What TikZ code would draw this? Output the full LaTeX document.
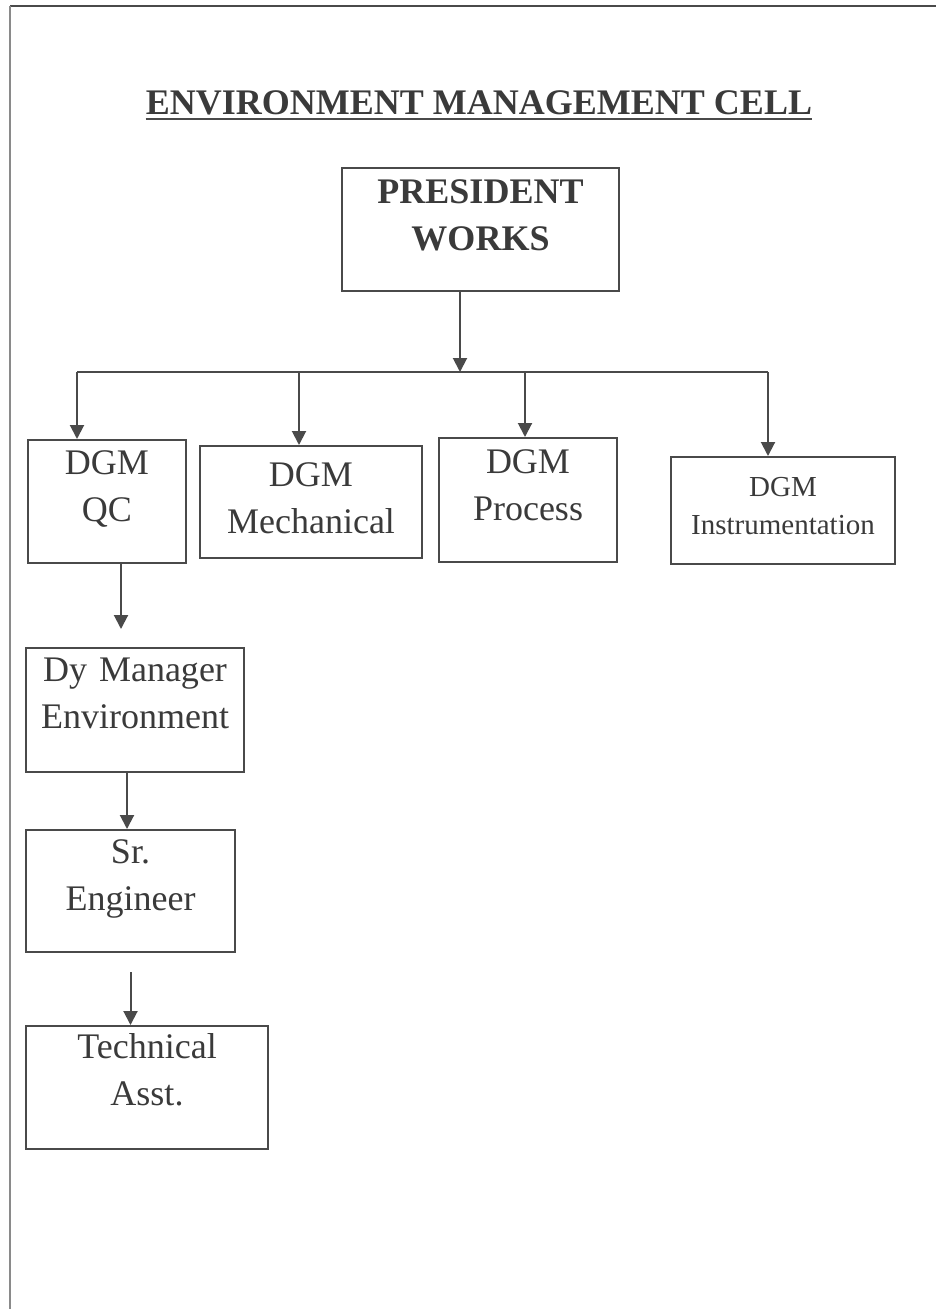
\documentclass[tikz,border=0pt]{standalone}
\usepackage{fontspec}
\setmainfont{Liberation Serif}
\usepackage{tikz}
\usepackage{xcolor}
\usetikzlibrary{
    arrows.meta,
    calc
}
\definecolor{inkgray}{HTML}{3A3A3A}
\definecolor{linegray}{HTML}{4A4A4A}
\definecolor{edgegray}{HTML}{8A8A8A}
\newcommand{\boxfont}{\fontsize{18.07}{23.6}\selectfont}
\newcommand{\smallboxfont}{\fontsize{14.55}{19.07}\selectfont}
\newcommand{\titlefont}{\fontsize{18.07}{22}\selectfont\bfseries}
\tikzset{post/.style={draw=linegray, line width=1bp, inner sep=0pt, anchor=north west, align=center, text=inkgray, font=\boxfont}}
\tikzset{arr/.style={draw=linegray, line width=1bp, -{Triangle[length=7bp, width=7bp]}}}

\begin{document}
\begin{tikzpicture}[x=0.5bp, y=-0.5bp]
                        \useasboundingbox (0,0) rectangle (936,1309);
                        % page frame
                        \draw[linegray, line width=0.8bp] (10,6) -- (936,6);
                        \draw[edgegray, line width=1.1bp] (10,6) -- (10,1309);
                        % title
                        \node[inner sep=0pt, anchor=base, text=inkgray, font=\titlefont] (title) at (479,115) {ENVIRONMENT MANAGEMENT CELL};
                        \draw[linegray, line width=1.25bp] ([yshift=-2bp]title.base west) -- ([yshift=-2bp]title.base east);
                        % boxes
                        \node[post, font=\boxfont\bfseries, text width=138.5bp, text height=17.5bp, text depth=44bp] (pres) at (341,167) {PRESIDENT\\WORKS};
                        \node[post, text width=79bp, text height=17bp, text depth=44.5bp] (qc) at (27,439) {DGM\\QC};
                        \node[post, text width=111bp, text height=20bp, text depth=36bp] (mech) at (199,445) {DGM\\Mechanical};
                        \node[post, text width=89bp, text height=17.5bp, text depth=44.5bp] (proc) at (438,437) {DGM\\Process};
                        \node[post, font=\smallboxfont, text width=112bp, text height=19.5bp, text depth=34bp] (inst) at (670,456) {DGM\\Instrumentation};
                        \node[post, text width=109bp, text height=16.5bp, text depth=45.5bp] (dym) at (25,647) {Dy Manager\\Environment};
                        \node[post, text width=104.5bp, text height=16.5bp, text depth=44.5bp] (sre) at (25,829) {Sr.\\Engineer};
                        \node[post, text width=121bp, text height=16bp, text depth=45.5bp] (tas) at (25,1025) {Technical\\Asst.};
                        % bus
                        \coordinate (bus) at (460,372);
                        \coordinate (b1) at (77,372);
                        \coordinate (b2) at (299,372);
                        \coordinate (b3) at (525,372);
                        \coordinate (b4) at (768,372);
                        \draw[linegray, line width=1bp] (b1) -- (b4);
                        \draw[arr] (pres.south -| bus) -- (bus);
                        \foreach \b/\n in {b1/qc, b2/mech, b3/proc, b4/inst}
                            \draw[arr] (\b) -- (\b |- \n.north);
                        % chain under QC
                        \draw[arr] ([xshift=7bp]qc.south) -- ++(0,65);
                        \draw[arr] ([xshift=-4bp]dym.south) -- ([xshift=-4bp]dym.south |- sre.north);
                        \draw[arr] ([yshift=-9.5bp]sre.south) -- (sre.south |- tas.north);
                    \end{tikzpicture}
\end{document}
